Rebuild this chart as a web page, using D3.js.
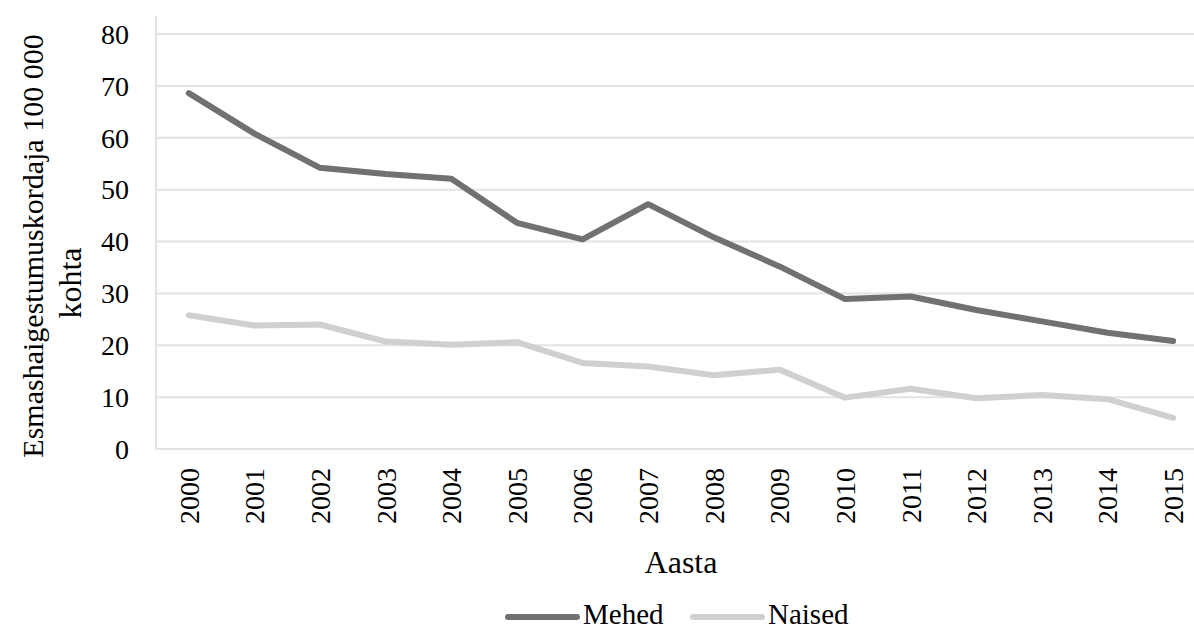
<!DOCTYPE html>
<html>
<head>
<meta charset="utf-8">
<script src="https://cdn.jsdelivr.net/npm/d3@7"></script>
<style>
  html, body { margin: 0; padding: 0; background: #fff; }
  svg { display: block; }
  svg text { font-family: "Liberation Serif"; }
</style>
</head>
<body>
<svg id="chart" width="1194" height="630"></svg>
<script>
// Incidence per 100 000, by year and sex
const years = ["2000","2001","2002","2003","2004","2005","2006","2007","2008","2009","2010","2011","2012","2013","2014","2015"];
const mehed = [68.6, 60.8, 54.2, 53.0, 52.1, 43.6, 40.4, 47.2, 40.8, 35.2, 28.9, 29.4, 26.8, 24.6, 22.4, 20.8];
const naised = [25.8, 23.8, 24.0, 20.7, 20.1, 20.6, 16.6, 15.9, 14.2, 15.3, 9.9, 11.6, 9.8, 10.4, 9.6, 6.0];
const yTicks = [0, 10, 20, 30, 40, 50, 60, 70, 80];
const seriesNames = ["Mehed", "Naised"];
const seriesColors = ["#717171", "#d0d0d0"];

const svg = d3.select("#chart");
const plot = { left: 156, right: 1206, top: 16, bottom: 449 };

const x = d3.scaleBand().domain(years).range([plot.left, plot.right]).padding(0);
const y = d3.scaleLinear().domain([0, 80]).range([plot.bottom, 34]);
const cx = d => x(d) + x.bandwidth() / 2;

// horizontal gridlines
svg.append("g")
  .selectAll("line")
  .data(yTicks.filter(t => t > 0))
  .join("line")
  .attr("x1", plot.left).attr("x2", plot.right)
  .attr("y1", d => y(d)).attr("y2", d => y(d))
  .attr("stroke", "#e3e3e3").attr("stroke-width", 2);

// axis lines
svg.append("line")
  .attr("x1", plot.left).attr("x2", plot.left)
  .attr("y1", plot.top).attr("y2", plot.bottom + 1)
  .attr("stroke", "#e3e3e3").attr("stroke-width", 2);
svg.append("line")
  .attr("x1", plot.left).attr("x2", plot.right)
  .attr("y1", plot.bottom).attr("y2", plot.bottom)
  .attr("stroke", "#e3e3e3").attr("stroke-width", 2);

// y tick labels
svg.append("g")
  .selectAll("text")
  .data(yTicks)
  .join("text")
  .attr("x", 129)
  .attr("y", d => y(d))
  .attr("dy", "0.35em")
  .attr("text-anchor", "end")
  .style("font-size", "28px")
  .text(d => d);

// x tick labels (rotated)
svg.append("g")
  .selectAll("text")
  .data(years)
  .join("text")
  .attr("transform", d => `translate(${cx(d)},468) rotate(-90)`)
  .attr("dy", "0.35em")
  .attr("text-anchor", "end")
  .style("font-size", "28px")
  .text(d => d);

// axis titles
svg.append("text")
  .attr("x", 681).attr("y", 573)
  .attr("text-anchor", "middle")
  .style("font-size", "32px")
  .text("Aasta");

const yTitle = svg.append("text")
  .attr("transform", "translate(0,246) rotate(-90)")
  .attr("text-anchor", "middle")
  .style("font-size", "30px");
yTitle.append("tspan").attr("x", 0).attr("y", 43).text("Esmashaigestumuskordaja 100 000");
yTitle.append("tspan").attr("x", -37).attr("y", 81).style("font-size", "32px").text("kohta");

// series lines
const line = d3.line().x((d, i) => cx(years[i])).y(d => y(d));
[mehed, naised].forEach((vals, k) => {
  svg.append("path")
    .datum(vals)
    .attr("d", line)
    .attr("fill", "none")
    .attr("stroke", seriesColors[k])
    .attr("stroke-width", 6)
    .attr("stroke-linecap", "round")
    .attr("stroke-linejoin", "round");
});

// legend
const legendX = [508, 693];
seriesNames.forEach((name, k) => {
  svg.append("line")
    .attr("x1", legendX[k]).attr("x2", legendX[k] + 69)
    .attr("y1", 617).attr("y2", 617)
    .attr("stroke", seriesColors[k]).attr("stroke-width", 6)
    .attr("stroke-linecap", "round");
  svg.append("text")
    .attr("x", legendX[k] + 75).attr("y", 624)
    .style("font-size", "29px")
    .text(name);
});
</script>
</body>
</html>
